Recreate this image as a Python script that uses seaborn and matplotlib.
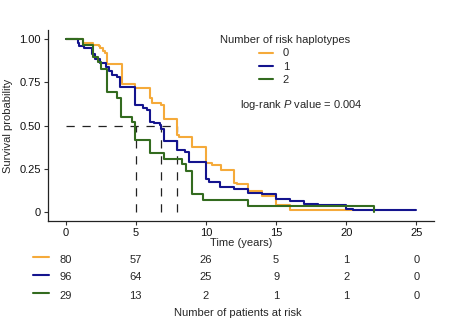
import numpy as np
import pandas as pd
import matplotlib
matplotlib.use("Agg")
import matplotlib.pyplot as plt
import matplotlib.transforms as mtransforms
from matplotlib.lines import Line2D
import seaborn as sns

# Kaplan-Meier step points per group: times of steps and survival after each step
groups = ["0", "1", "2"]
colors = ["#F5AA3A", "#14148E", "#336B1F"]

time_0 = [0, 1.25, 1.98, 2.35, 2.47, 2.65, 2.82, 2.95, 4.0, 4.95, 6.0, 6.15, 6.8, 7.0,
          7.95, 8.05, 9.0, 10.0, 10.45, 11.05, 12.0, 12.2, 13.0, 14.0, 15.0, 16.0, 20.45]
surv_0 = [1.0, 0.975, 0.965, 0.96, 0.946, 0.932, 0.92, 0.855, 0.74, 0.715, 0.66, 0.632, 0.618, 0.536,
          0.445, 0.432, 0.377, 0.285, 0.272, 0.243, 0.172, 0.162, 0.123, 0.092, 0.04, 0.012, 0.012]

time_1 = [0, 0.86, 0.93, 1.33, 1.88, 2.07, 2.47, 2.9, 3.13, 3.3, 3.66, 3.9, 4.96, 5.55, 5.79,
          6.03, 6.33, 6.74, 6.83, 7.0, 7.93, 8.5, 8.83, 10.0, 10.2, 11.0, 12.0, 13.0, 14.0,
          15.0, 16.0, 17.0, 18.0, 20.0, 20.5, 25.0]
surv_1 = [1.0, 0.98, 0.96, 0.95, 0.913, 0.884, 0.86, 0.836, 0.813, 0.79, 0.78, 0.724, 0.618, 0.603, 0.59,
          0.52, 0.516, 0.503, 0.48, 0.41, 0.36, 0.35, 0.29, 0.195, 0.176, 0.147, 0.137, 0.114, 0.104,
          0.079, 0.064, 0.05, 0.04, 0.017, 0.012, 0.012]

time_2 = [0, 1.25, 1.93, 1.97, 2.3, 2.55, 2.95, 3.66, 3.94, 4.75, 4.97, 6.0, 7.0, 8.3, 8.57,
          9.0, 9.78, 13.0, 22.0]
surv_2 = [1.0, 0.965, 0.932, 0.898, 0.869, 0.83, 0.695, 0.657, 0.55, 0.52, 0.416, 0.345, 0.306, 0.28, 0.24,
          0.104, 0.069, 0.035, 0.0]

# Median survival times per group (where each curve crosses 0.5)
medians = [7.97, 6.83, 5.0]

# Number at risk table
risk_times = [0, 5, 10, 15, 20, 25]
at_risk_0 = [80, 57, 26, 5, 1, 0]
at_risk_1 = [96, 64, 25, 9, 2, 0]
at_risk_2 = [29, 13, 2, 1, 1, 0]

df = pd.concat([
    pd.DataFrame({"time": time_0, "surv": surv_0, "group": "0"}),
    pd.DataFrame({"time": time_1, "surv": surv_1, "group": "1"}),
    pd.DataFrame({"time": time_2, "surv": surv_2, "group": "2"}),
], ignore_index=True)

sns.set_style("white")
plt.rcParams["font.family"] = ["Liberation Sans", "DejaVu Sans"]
plt.rcParams["mathtext.fontset"] = "custom"
plt.rcParams["mathtext.rm"] = "Liberation Sans"
plt.rcParams["mathtext.it"] = "Liberation Sans:italic"

FS = 8
W, H = 450, 328
fig = plt.figure(figsize=(W / 100, H / 100), dpi=100)
ax = fig.add_axes([48 / W, 1 - 221 / H, (434 - 48) / W, (221 - 30.4) / H])

sns.lineplot(data=df, x="time", y="surv", hue="group", palette=dict(zip(groups, colors)),
             estimator=None, sort=False, drawstyle="steps-post", linewidth=1.5,
             legend=False, ax=ax)

# Median reference lines
dash = (0, (6.6, 6.2))
ax.plot([0, max(medians)], [0.5, 0.5], color="#222222", lw=0.9, linestyle=dash, zorder=1)
for m in medians:
    ax.plot([m, m], [0, 0.5], color="#222222", lw=0.9, linestyle=dash, zorder=1)

ax.set_xlim(-1.25, 26.25)
ax.set_ylim(-0.05, 1.05)
ax.set_xticks(risk_times)
ax.set_xticklabels([str(t) for t in risk_times])
ax.set_yticks([0, 0.25, 0.5, 0.75, 1.0])
ax.set_yticklabels(["0", "0.25", "0.50", "0.75", "1.00"])
ax.tick_params(axis="both", labelsize=FS, length=3, width=0.8, color="#333333",
               labelcolor="#111111", pad=2, direction="out", bottom=True, left=True)
for side in ["top", "right"]:
    ax.spines[side].set_visible(False)
for side in ["left", "bottom"]:
    ax.spines[side].set_linewidth(0.9)
    ax.spines[side].set_color("#222222")
ax.set_xlabel("Time (years)", fontsize=FS, labelpad=0)
ax.set_ylabel("Survival probability", fontsize=FS, labelpad=5)

# Legend: title centred above, keys listed below it
fig.text(285 / W, 1 - 40 / H, "Number of risk haplotypes", ha="center", va="center",
         fontsize=FS)
handles = [Line2D([0], [0], color=c, lw=1.5) for c in colors]
leg = ax.legend(handles, groups, fontsize=FS, frameon=False, handlelength=1.25,
                handletextpad=0.9, labelspacing=0.28, loc="upper left",
                borderpad=0, borderaxespad=0,
                bbox_to_anchor=(259 / W, 1 - 48.5 / H), bbox_transform=fig.transFigure)

fig.text(301 / W, 1 - 105 / H, "log-rank $P$ value = 0.004", ha="center", va="center",
         fontsize=FS)

# Risk table below the plot
trans = mtransforms.blended_transform_factory(ax.transData, fig.transFigure)
row_y = [260, 277.5, 296]
for counts, c, y in zip([at_risk_0, at_risk_1, at_risk_2], colors, row_y):
    yf = 1 - y / H
    fig.add_artist(Line2D([33 / W, 49 / W], [yf + 3 / H, yf + 3 / H], color=c, lw=1.5,
                          transform=fig.transFigure))
    for t, n in zip(risk_times, counts):
        ax.text(t, yf, str(n), transform=trans, ha="center", va="center", fontsize=FS)

fig.text(238 / W, 1 - 313 / H, "Number of patients at risk", ha="center", va="center",
         fontsize=FS)

fig.savefig("out.png", dpi=100)
